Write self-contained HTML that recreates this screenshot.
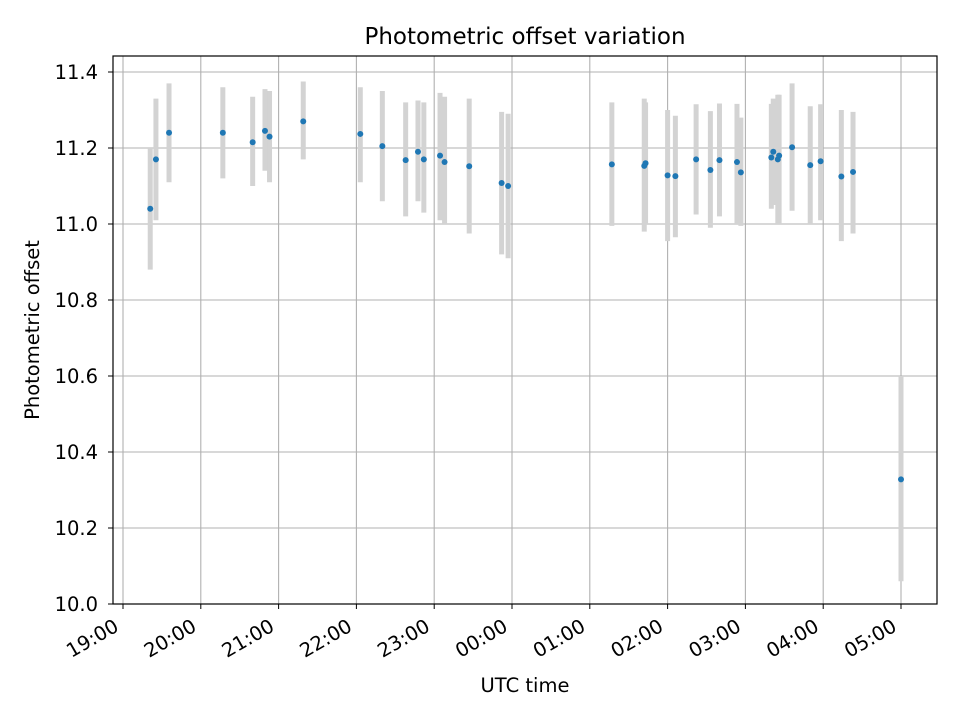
<!DOCTYPE html>
<html><head><meta charset="utf-8"><style>
html,body{margin:0;padding:0;background:#fff;}
svg{display:block;font-family:"DejaVu Sans","Liberation Sans",sans-serif;}
</style></head><body>
<svg id="chart" width="960" height="720" viewBox="0 0 960 720">
<rect x="0" y="0" width="960" height="720" fill="#fff"/>
<g id="grid"></g>
<g id="bars"></g>
<g id="pts"></g>
<rect x="113" y="56" width="824" height="548" fill="none" stroke="#000" stroke-width="1.2"/>
<g id="xt"></g>
<g id="yt"></g>
<text x="525" y="44" font-size="23" text-anchor="middle">Photometric offset variation</text>
<text x="525" y="692" font-size="19.5" text-anchor="middle">UTC time</text>
<text x="39" y="330" font-size="19.5" text-anchor="middle" transform="rotate(-90 39 330)">Photometric offset</text>
</svg>
<script>
// minutes after 19:00 UTC
const times = [21,25.4,35.5,77,100,109.5,113,139,183,200,218,227.5,232,244.5,248,267,292,297,377,402,403,420,426,442,453,460,473.5,476.5,500,501.5,505,506,516,530,538,554,563,600];
const offsets = [11.04,11.17,11.24,11.24,11.215,11.245,11.23,11.27,11.237,11.205,11.168,11.19,11.17,11.18,11.163,11.152,11.108,11.10,11.157,11.153,11.16,11.128,11.126,11.17,11.142,11.168,11.163,11.136,11.175,11.19,11.17,11.18,11.202,11.155,11.165,11.125,11.137,10.328];
const lows = [10.88,11.01,11.11,11.12,11.10,11.14,11.11,11.17,11.11,11.06,11.02,11.06,11.03,11.01,11.00,10.975,10.92,10.91,10.995,10.98,11.00,10.955,10.965,11.025,10.99,11.02,11.00,10.995,11.04,11.05,11.00,11.00,11.035,11.00,11.01,10.955,10.975,10.06];
const highs = [11.20,11.33,11.37,11.36,11.335,11.355,11.35,11.375,11.36,11.35,11.32,11.325,11.32,11.345,11.335,11.33,11.295,11.29,11.32,11.33,11.32,11.30,11.285,11.315,11.297,11.317,11.316,11.28,11.316,11.33,11.34,11.34,11.37,11.31,11.315,11.30,11.295,10.60];
const xTickLabels = ["19:00","20:00","21:00","22:00","23:00","00:00","01:00","02:00","03:00","04:00","05:00"];
const yTicks = [10.0,10.2,10.4,10.6,10.8,11.0,11.2,11.4];

const NS="http://www.w3.org/2000/svg";
const X = m => 123 + m/60*77.8;
const Y = v => 604 - (v-10.0)*380;
function mk(tag, attrs, parent){const e=document.createElementNS(NS,tag);for(const k in attrs)e.setAttribute(k,attrs[k]);parent.appendChild(e);return e;}
const grid=document.getElementById('grid'),xt=document.getElementById('xt'),yt=document.getElementById('yt');
const bars=document.getElementById('bars'),pts=document.getElementById('pts');
xTickLabels.forEach((lab,i)=>{
  const x=X(i*60);
  const g=mk('line',{x1:x,x2:x,y1:56,y2:604,stroke:'#b0b0b0','stroke-width':1.1},grid);
  
  
  const t=mk('line',{x1:x,x2:x,y1:604,y2:609,stroke:'#000','stroke-width':1},xt);
  
  
  const ax=x-3, ay=630;
  const tx=mk('text',{x:ax,y:ay,'font-size':19.5,'text-anchor':'end',transform:`rotate(-30 ${ax} ${ay})`},xt);
  tx.textContent=lab;
  
  
});
yTicks.forEach(v=>{
  const y=Y(v);
  const g=mk('line',{x1:113,x2:937,y1:y,y2:y,stroke:'#b0b0b0','stroke-width':1.1},grid);
  
  
  const t=mk('line',{x1:108,x2:113,y1:y,y2:y,stroke:'#000','stroke-width':1},yt);
  
  
  const tx=mk('text',{x:98,y:y+7,'font-size':19.5,'text-anchor':'end'},yt);
  tx.textContent=v.toFixed(1);
  
  
});
times.forEach((m,i)=>{
  const x=X(m);
  const b=mk('line',{x1:x,x2:x,y1:Y(lows[i]),y2:Y(highs[i]),stroke:'#d3d3d3','stroke-width':5},bars);
  
  
  const c=mk('circle',{cx:x,cy:Y(offsets[i]),r:3,fill:'#1f77b4'},pts);
  
  
});
</script>
</body></html>
